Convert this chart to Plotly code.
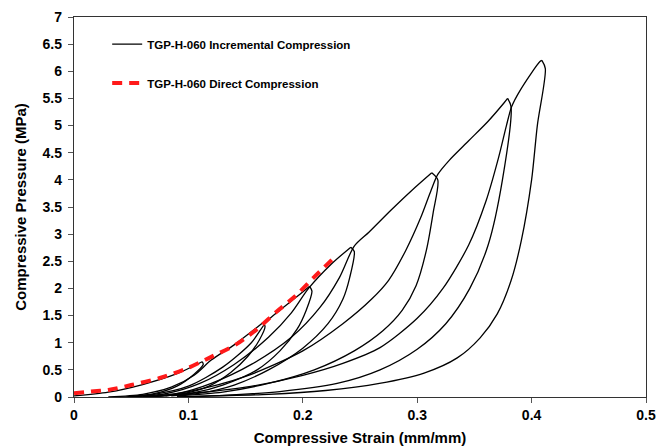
import plotly.graph_objects as go

# Direct compression curve (strain, MPa)
direct_strain = [0.0, 0.015, 0.03, 0.05, 0.075, 0.097, 0.12, 0.141, 0.16, 0.177, 0.193, 0.209, 0.228]
direct_pressure = [0.07, 0.10, 0.13, 0.22, 0.35, 0.51, 0.74, 0.96, 1.25, 1.57, 1.85, 2.19, 2.58]

# Incremental compression: loading / unloading branches of each cycle
load1_strain = [0.0, 0.03, 0.06, 0.09, 0.112]
load1_pressure = [0.02, 0.09, 0.23, 0.43, 0.65]
unload1_strain = [0.112, 0.113, 0.105, 0.09, 0.07, 0.05]
unload1_pressure = [0.65, 0.60, 0.42, 0.20, 0.06, 0.01]

load2_strain = [0.03, 0.06, 0.085, 0.105, 0.12, 0.14, 0.155, 0.165]
load2_pressure = [0.0, 0.05, 0.18, 0.40, 0.68, 0.96, 1.20, 1.37]
unload2_strain = [0.165, 0.167, 0.162, 0.152, 0.137, 0.118, 0.095, 0.07]
unload2_pressure = [1.37, 1.30, 1.05, 0.75, 0.45, 0.20, 0.06, 0.01]

load3_strain = [0.04, 0.07, 0.10, 0.13, 0.155, 0.168, 0.18, 0.195, 0.206]
load3_pressure = [0.0, 0.05, 0.20, 0.55, 1.00, 1.38, 1.60, 1.85, 2.04]
unload3_strain = [0.206, 0.208, 0.203, 0.195, 0.18, 0.16, 0.13, 0.105, 0.08]
unload3_pressure = [2.04, 1.95, 1.60, 1.25, 0.85, 0.50, 0.22, 0.08, 0.02]

load4_strain = [0.05, 0.08, 0.11, 0.14, 0.17, 0.19, 0.205, 0.225, 0.242]
load4_pressure = [0.0, 0.06, 0.25, 0.60, 1.10, 1.55, 2.00, 2.45, 2.76]
unload4_strain = [0.242, 0.245, 0.241, 0.235, 0.222, 0.20, 0.17, 0.14, 0.11, 0.085]
unload4_pressure = [2.76, 2.68, 2.20, 1.80, 1.35, 0.90, 0.50, 0.22, 0.07, 0.02]

load5_strain = [0.06, 0.09, 0.12, 0.155, 0.19, 0.215, 0.232, 0.245, 0.258, 0.277, 0.295, 0.3127]
load5_pressure = [0.0, 0.06, 0.25, 0.60, 1.10, 1.65, 2.20, 2.78, 3.04, 3.44, 3.80, 4.13]
unload5_strain = [0.3127, 0.318, 0.314, 0.308, 0.299, 0.287, 0.27, 0.245, 0.21, 0.17, 0.13, 0.09]
unload5_pressure = [4.13, 4.00, 3.40, 2.70, 2.05, 1.60, 1.22, 0.85, 0.50, 0.25, 0.09, 0.02]

load6_strain = [0.065, 0.10, 0.15, 0.20, 0.235, 0.26, 0.275, 0.29, 0.303, 0.312, 0.318, 0.328, 0.345, 0.362, 0.376, 0.379]
load6_pressure = [0.0, 0.10, 0.38, 0.85, 1.35, 1.80, 2.15, 2.70, 3.30, 3.80, 4.10, 4.36, 4.72, 5.08, 5.42, 5.50]
unload6_strain = [0.379, 0.382, 0.3745, 0.362, 0.346, 0.325, 0.30, 0.2675, 0.23, 0.18, 0.13, 0.09]
unload6_pressure = [5.50, 5.35, 4.00, 2.80, 2.00, 1.35, 0.88, 0.50, 0.25, 0.10, 0.03, 0.0]

load7_strain = [0.06, 0.10, 0.15, 0.20, 0.235, 0.2675, 0.30, 0.3225, 0.345, 0.36, 0.371, 0.378, 0.3826, 0.39, 0.4073, 0.409]
load7_pressure = [0.0, 0.06, 0.18, 0.40, 0.62, 0.91, 1.45, 2.00, 2.80, 3.60, 4.40, 5.00, 5.35, 5.65, 6.18, 6.20]
unload7_strain = [0.409, 0.412, 0.405, 0.400, 0.391, 0.382, 0.370, 0.355, 0.335, 0.306, 0.267, 0.22, 0.17, 0.12, 0.09]
unload7_pressure = [6.20, 6.05, 5.00, 4.00, 2.88, 2.14, 1.53, 1.09, 0.72, 0.44, 0.25, 0.12, 0.05, 0.02, 0.0]

branches = [
    (load1_strain, load1_pressure), (unload1_strain, unload1_pressure),
    (load2_strain, load2_pressure), (unload2_strain, unload2_pressure),
    (load3_strain, load3_pressure), (unload3_strain, unload3_pressure),
    (load4_strain, load4_pressure), (unload4_strain, unload4_pressure),
    (load5_strain, load5_pressure), (unload5_strain, unload5_pressure),
    (load6_strain, load6_pressure), (unload6_strain, unload6_pressure),
    (load7_strain, load7_pressure), (unload7_strain, unload7_pressure),
]

FONT = "Liberation Sans, Arial, sans-serif"

fig = go.Figure()
# one trace per branch, all in the same legend group
for i, (xs, ys) in enumerate(branches):
    fig.add_trace(go.Scatter(
        x=xs, y=ys, mode="lines", legendgroup="inc", showlegend=(i == 0),
        line=dict(color="black", width=1.3, shape="spline", smoothing=0.8),
        name="TGP-H-060 Incremental Compression",
    ))
fig.add_trace(go.Scatter(
    x=direct_strain, y=direct_pressure, mode="lines", legendgroup="dir",
    line=dict(color="#ff1a1a", width=4, dash="10px,7px", shape="spline", smoothing=0.8),
    name="TGP-H-060 Direct Compression",
))

axis_common = dict(
    showgrid=False, zeroline=False, showline=True, linecolor="#333", linewidth=1.3,
    mirror=True, ticks="outside", ticklen=5, tickcolor="#555", tickwidth=1,
    automargin=False,
    tickfont=dict(family=FONT, size=14, color="black", weight="bold"),
)

fig.update_layout(
    width=657, height=447,
    margin=dict(l=74, r=11, t=17, b=50),
    paper_bgcolor="white", plot_bgcolor="white",
    xaxis=dict(range=[0, 0.5], dtick=0.1, tickformat=".1~f",
               title=dict(text="Compressive Strain (mm/mm)", standoff=10,
                          font=dict(family=FONT, size=15, color="black", weight="bold")),
               **axis_common),
    yaxis=dict(range=[0, 7], dtick=0.5, ticklabelstandoff=3,
               title=dict(text="Compressive Pressure (MPa)", standoff=12,
                          font=dict(family=FONT, size=15, color="black", weight="bold")),
               **axis_common),
    legend=dict(x=0.058, y=0.967, xanchor="left", yanchor="top",
                bgcolor="rgba(0,0,0,0)", tracegroupgap=20, traceorder="grouped",
                font=dict(family=FONT, size=11.5, color="black", weight="bold")),
    showlegend=True,
)

fig.write_html("out.html")
